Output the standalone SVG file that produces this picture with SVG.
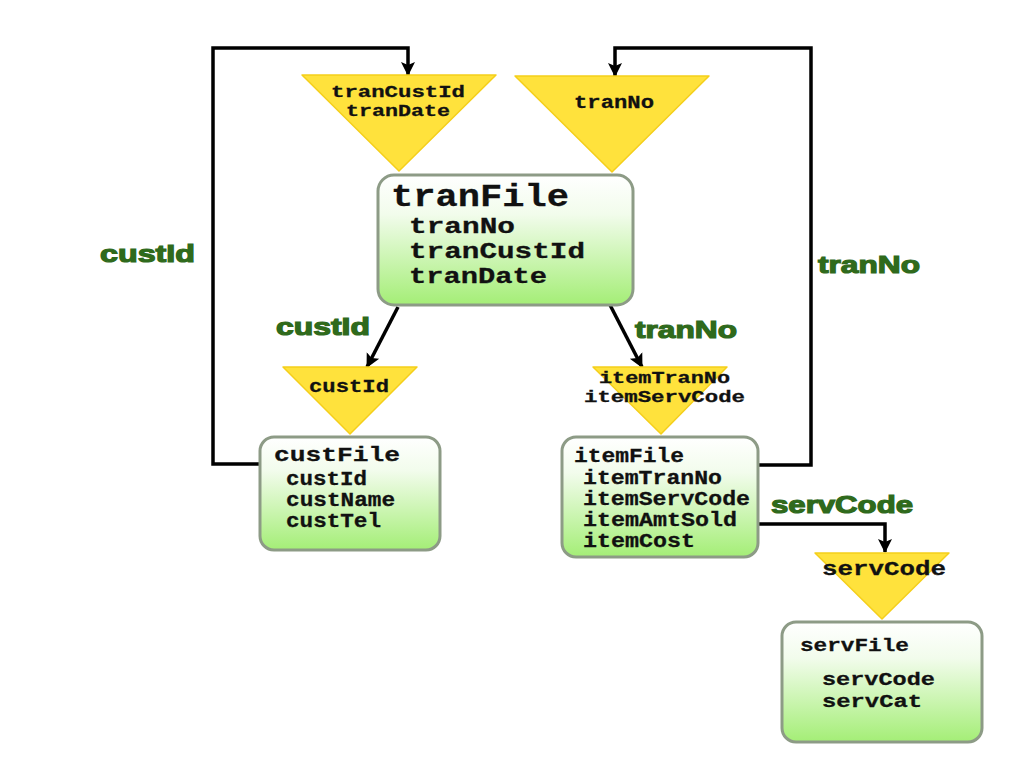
<svg xmlns="http://www.w3.org/2000/svg" width="1024" height="768" viewBox="0 0 1024 768">
<style>
.tri{fill:#ffe23c;stroke:#f5cf1a;stroke-width:1.5;stroke-linejoin:round}
.box{fill:url(#g);stroke:#8d9b86;stroke-width:3}
.mono{font-family:"Liberation Mono","Courier New",monospace;font-weight:bold;fill:#111;stroke:#111;stroke-width:0.3}
.lbl{font-family:"Liberation Sans",Arial,sans-serif;font-weight:bold;fill:#2f6a1c;stroke:#2f6a1c;stroke-width:1.2}
.con{fill:none;stroke:#000;stroke-width:3.5;marker-end:url(#ah)}
</style>
<defs>
<linearGradient id="g" x1="0" y1="0" x2="0" y2="1">
<stop offset="0" stop-color="#ffffff"/>
<stop offset="0.3" stop-color="#f2fcec"/>
<stop offset="1" stop-color="#a4ee76"/>
</linearGradient>
<marker id="ah" markerUnits="userSpaceOnUse" markerWidth="16" markerHeight="16" refX="13" refY="7" orient="auto" viewBox="0 0 16 14">
<path d="M0,0 L14,7 L0,14 L3,7 Z" fill="#000"/>
</marker>
</defs>
<rect width="1024" height="768" fill="#fff"/>
<g id="connectors">
<path class="con" d="M260,464 H213 V48 H408 V75"/>
<path class="con" d="M758,465 H811 V48 H615 V76"/>
<path class="con" d="M398,307 L367,367"/>
<path class="con" d="M609,303 L642,367"/>
<path class="con" d="M758,524 H885 V552"/>
</g>
<g id="labels">
<text class="lbl" x="100" y="262" font-size="24" textLength="95" lengthAdjust="spacingAndGlyphs">custId</text>
<text class="lbl" x="818" y="273" font-size="24" textLength="102" lengthAdjust="spacingAndGlyphs">tranNo</text>
<text class="lbl" x="276" y="335" font-size="24" textLength="94" lengthAdjust="spacingAndGlyphs">custId</text>
<text class="lbl" x="635" y="338" font-size="24" textLength="102" lengthAdjust="spacingAndGlyphs">tranNo</text>
<text class="lbl" x="771" y="513" font-size="24" textLength="142" lengthAdjust="spacingAndGlyphs">servCode</text>
</g>
<g id="key-tran-cust">
<polygon class="tri" points="302,75 496,75 399,171"/>
<text class="mono" x="331" y="97" font-size="17" textLength="134" lengthAdjust="spacingAndGlyphs">tranCustId</text>
<text class="mono" x="346" y="116" font-size="17" textLength="104" lengthAdjust="spacingAndGlyphs">tranDate</text>
</g>
<g id="key-tranNo">
<polygon class="tri" points="515,76 709,76 612,172"/>
<text class="mono" x="574" y="108" font-size="19" textLength="80" lengthAdjust="spacingAndGlyphs">tranNo</text>
</g>
<g id="tranFile">
<rect class="box" x="378" y="175" width="255" height="130" rx="16"/>
<text class="mono" x="391" y="206" font-size="32" textLength="178" lengthAdjust="spacingAndGlyphs" stroke-width="0.6">tranFile</text>
<text class="mono" x="409" y="233" font-size="22" textLength="106" lengthAdjust="spacingAndGlyphs">tranNo</text>
<text class="mono" x="409" y="258" font-size="22" textLength="176" lengthAdjust="spacingAndGlyphs">tranCustId</text>
<text class="mono" x="409" y="283" font-size="22" textLength="138" lengthAdjust="spacingAndGlyphs">tranDate</text>
</g>
<g id="key-custId">
<polygon class="tri" points="283,367 417,367 350,434"/>
<text class="mono" x="309" y="392" font-size="19" textLength="80" lengthAdjust="spacingAndGlyphs">custId</text>
</g>
<g id="key-item">
<polygon class="tri" points="593,367 727,367 661,434"/>
<text class="mono" x="599" y="383" font-size="17" textLength="131" lengthAdjust="spacingAndGlyphs">itemTranNo</text>
<text class="mono" x="584" y="402" font-size="17" textLength="161" lengthAdjust="spacingAndGlyphs">itemServCode</text>
</g>
<g id="custFile">
<rect class="box" x="260" y="437" width="180" height="113" rx="14"/>
<text class="mono" x="274" y="461" font-size="21" textLength="126" lengthAdjust="spacingAndGlyphs">custFile</text>
<text class="mono" x="286" y="485" font-size="20" textLength="81" lengthAdjust="spacingAndGlyphs">custId</text>
<text class="mono" x="286" y="506" font-size="20" textLength="109" lengthAdjust="spacingAndGlyphs">custName</text>
<text class="mono" x="286" y="527" font-size="20" textLength="95" lengthAdjust="spacingAndGlyphs">custTel</text>
</g>
<g id="itemFile">
<rect class="box" x="562" y="437" width="196" height="120" rx="14"/>
<text class="mono" x="574" y="462" font-size="20" textLength="110" lengthAdjust="spacingAndGlyphs">itemFile</text>
<text class="mono" x="583" y="484" font-size="20" textLength="139" lengthAdjust="spacingAndGlyphs">itemTranNo</text>
<text class="mono" x="583" y="505" font-size="20" textLength="167" lengthAdjust="spacingAndGlyphs">itemServCode</text>
<text class="mono" x="583" y="526" font-size="20" textLength="154" lengthAdjust="spacingAndGlyphs">itemAmtSold</text>
<text class="mono" x="583" y="547" font-size="20" textLength="112" lengthAdjust="spacingAndGlyphs">itemCost</text>
</g>
<g id="key-servCode">
<polygon class="tri" points="815,553 949,553 882,619"/>
<text class="mono" x="822" y="575" font-size="20" textLength="124" lengthAdjust="spacingAndGlyphs">servCode</text>
</g>
<g id="servFile">
<rect class="box" x="782" y="622" width="200" height="120" rx="14"/>
<text class="mono" x="800" y="651" font-size="19" textLength="109" lengthAdjust="spacingAndGlyphs">servFile</text>
<text class="mono" x="822" y="685" font-size="19" textLength="113" lengthAdjust="spacingAndGlyphs">servCode</text>
<text class="mono" x="822" y="707" font-size="19" textLength="100" lengthAdjust="spacingAndGlyphs">servCat</text>
</g>
</svg>
